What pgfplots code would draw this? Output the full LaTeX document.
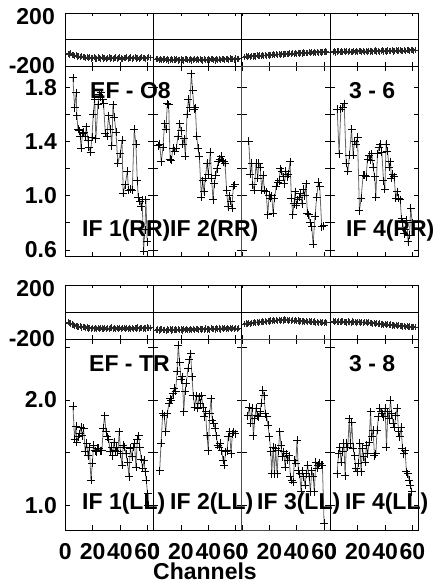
\documentclass[border=0pt]{standalone}
\usepackage{fontspec}
\setmainfont{Liberation Sans}
\usepackage{pgfplots}
\pgfplotsset{compat=1.18}
\newcommand{\bigf}{\fontsize{23}{25}\selectfont\bfseries}
\pgfplotsset{
  base/.style={scale only axis, width=88.4pt, xmin=-0.2, xmax=64.5, anchor=south west,
    axis line style={line width=0.8pt}, tick align=inside, tick pos=both,
    xtick={0,20,40,60}, xticklabels={}, yticklabels={},
    major tick style={line width=0.7pt, black},
    every tick label/.append style={font=\bigf},
    /pgf/number format/assume math mode=true},
  ph/.style={base, height=53pt, ymin=-200, ymax=200, ytick={-200,0,200}, ymajorgrids,
    grid style={black, line width=0.7pt}, major tick length=3.5pt},
  phlab/.style={yticklabels={-200,,}, yticklabel style={inner sep=0pt, xshift=-10pt},
    extra y ticks={200}, extra y tick labels={200}, extra y tick style={yticklabel style={yshift=-3.5pt}}},
  ampA/.style={base, height=190.7pt, ymin=0.55, ymax=1.957, ytick={0.6,0.8,1.0,1.2,1.4,1.6,1.8}, major tick length=5pt},
  ampB/.style={base, height=191pt, ymin=0.766, ymax=2.578, ytick={1.0,1.5,2.0,2.5}, major tick length=5pt},
  ampplot/.style={black!60, line width=0.8pt, mark=+, mark size=4pt, mark options={black, line width=0.8pt}},
  phplot/.style={black!80, line width=0.9pt, mark=+, mark size=3.1pt, mark options={black!85, line width=0.9pt}},
  table/phtab/.style={x expr=\coordindex+2, y index=0, header=false, row sep=\\},
  ylab/.style={yticklabel style={inner sep=0pt, xshift=-8pt}},
  xlab/.style={xticklabels={0,20,40,60}, xticklabel style={inner sep=0pt, yshift=-13pt}},
}
\begin{document}
\begin{tikzpicture}
\useasboundingbox (0pt,0pt) rectangle (432pt,583pt);
%================ TOP BLOCK: phase ================
\begin{axis}[ph, at={(65pt,517pt)}, phlab]
\addplot[phplot] table[phtab] {-108\\-114\\-103\\-117\\-118\\-124\\-118\\-128\\-126\\-133\\-125\\-135\\-133\\-140\\-132\\-142\\-135\\-144\\-137\\-134\\-143\\-146\\-136\\-141\\-145\\-135\\-143\\-138\\-147\\-140\\-134\\-144\\-138\\-146\\-141\\-136\\-145\\-140\\-135\\-144\\-147\\-137\\-142\\-134\\-145\\-140\\-136\\-146\\-141\\-135\\-144\\-138\\-147\\-140\\-134\\-142\\-137\\-145\\-138\\-132\\-137\\};
\end{axis}
\begin{axis}[ph, at={(153.4pt,517pt)}]
\addplot[phplot] table[phtab] {-150\\-146\\-155\\-148\\-157\\-151\\-145\\-156\\-150\\-158\\-152\\-147\\-157\\-151\\-154\\-146\\-158\\-152\\-149\\-156\\-159\\-150\\-147\\-157\\-154\\-149\\-158\\-152\\-146\\-156\\-150\\-157\\-149\\-154\\-159\\-147\\-152\\-157\\-149\\-156\\-150\\-146\\-154\\-158\\-149\\-152\\-147\\-156\\-150\\-145\\-154\\-149\\-146\\-153\\-144\\-150\\-145\\-152\\-143\\-149\\-145\\};
\end{axis}
\begin{axis}[ph, at={(241.8pt,517pt)}]
\addplot[phplot] table[phtab] {-133\\-125\\-132\\-126\\-130\\-122\\-129\\-123\\-128\\-120\\-126\\-121\\-125\\-117\\-124\\-118\\-122\\-115\\-121\\-116\\-119\\-112\\-118\\-111\\-116\\-111\\-115\\-108\\-114\\-107\\-112\\-107\\-111\\-104\\-110\\-103\\-108\\-103\\-107\\-100\\-106\\-101\\-105\\-98\\-104\\-99\\-103\\-96\\-102\\-97\\-101\\-94\\-100\\-95\\-99\\-92\\-98\\-93\\-97\\-91\\-95\\};
\end{axis}
\begin{axis}[ph, at={(330.2pt,517pt)}]
\addplot[phplot] table[phtab] {-96\\-89\\-98\\-91\\-87\\-95\\-90\\-97\\-88\\-94\\-89\\-96\\-87\\-93\\-95\\-88\\-92\\-86\\-94\\-89\\-85\\-93\\-88\\-95\\-87\\-92\\-84\\-91\\-86\\-93\\-88\\-83\\-91\\-85\\-92\\-87\\-82\\-90\\-85\\-91\\-83\\-89\\-84\\-81\\-90\\-85\\-82\\-89\\-83\\-80\\-88\\-84\\-81\\-87\\-82\\-79\\-86\\-81\\-78\\-85\\-80\\};
\end{axis}
%================ TOP BLOCK: amplitude ================
\begin{axis}[ampA, at={(65pt,326.3pt)}, ylab, yticklabels={0.6,,1.0,,1.4,,1.8}]
\addplot[ampplot] coordinates {(5.6,1.87)(6.8,1.65)(8.0,1.76)(8.5,1.59)(9.3,1.49)(10.2,1.48)(11.0,1.44)(11.5,1.35)(12.7,1.46)(13.4,1.47)(14.6,1.44)(15.4,1.51)(16.6,1.41)(17.1,1.36)(18.5,1.32)(19.5,1.43)(20.5,1.60)(21.5,1.71)(22.4,1.42)(23.9,1.67)(24.9,1.75)(25.6,1.73)(26.3,1.76)(27.3,1.71)(28.0,1.68)(29.3,1.46)(30.5,1.44)(31.7,1.59)(32.9,1.49)(34.1,1.37)(34.9,1.67)(35.9,1.58)(37.1,1.47)(38.5,1.24)(40.2,1.31)(41.5,1.41)(42.4,1.02)(43.9,1.08)(45.4,1.18)(46.3,1.04)(47.8,1.05)(49.0,1.04)(50.5,1.49)(51.7,1.38)(52.7,1.11)(53.4,0.99)(54.6,0.96)(55.6,0.92)(56.3,0.97)(57.3,0.59)(58.3,0.75)(59.0,0.97)(60.0,0.66)};
\end{axis}
\begin{axis}[ampA, at={(153.4pt,326.3pt)}]
\addplot[ampplot] coordinates {(3.2,1.37)(4.4,1.38)(5.6,1.25)(6.8,1.36)(8.0,1.53)(9.0,1.49)(10.0,1.68)(11.0,1.67)(12.0,1.27)(12.9,1.26)(14.1,1.35)(15.4,1.33)(16.6,1.35)(17.8,1.44)(19.0,1.53)(20.2,1.48)(21.2,1.38)(22.2,1.42)(23.2,1.29)(24.4,1.60)(25.4,1.71)(26.3,1.65)(27.6,1.90)(28.5,1.78)(29.5,1.64)(30.5,1.65)(31.5,1.44)(32.4,1.35)(33.4,1.29)(34.9,0.99)(35.9,1.11)(36.8,1.03)(37.8,1.13)(39.0,1.24)(40.0,1.16)(41.5,1.32)(42.4,1.13)(43.4,0.97)(44.4,1.09)(45.4,1.15)(46.3,1.20)(47.3,1.25)(48.3,1.27)(49.3,1.29)(50.2,1.26)(51.2,1.25)(52.2,1.24)(53.4,1.04)(54.4,0.92)(55.4,1.00)(56.3,0.96)(57.3,0.91)(58.3,1.07)(59.3,1.08)};
\end{axis}
\begin{axis}[ampA, at={(241.8pt,326.3pt)}, axis line style={line width=0.8pt, black!70}]
\addplot[ampplot] coordinates {(4.9,1.40)(6.1,1.16)(7.1,1.24)(7.8,1.08)(9.0,1.04)(10.2,1.24)(11.5,1.13)(12.2,1.24)(13.2,1.21)(14.4,1.04)(15.4,1.15)(16.3,1.04)(17.6,1.03)(18.8,0.86)(19.8,1.00)(20.7,0.98)(21.7,1.00)(22.7,0.87)(23.7,0.98)(25.1,1.07)(26.1,1.10)(27.1,1.11)(28.0,1.20)(29.0,1.18)(30.0,1.14)(31.0,1.09)(32.0,1.18)(32.9,1.14)(33.9,1.16)(35.1,1.25)(36.1,0.98)(37.1,0.86)(38.0,0.94)(38.8,1.03)(39.8,0.93)(40.7,0.97)(41.7,0.99)(42.7,1.02)(43.9,0.94)(44.9,1.05)(45.9,1.00)(46.8,1.09)(47.8,0.87)(48.8,0.86)(50.0,0.80)(51.0,0.77)(52.0,0.64)(53.4,0.85)(54.6,0.99)(55.9,1.10)(56.8,1.07)(58.3,0.77)(59.8,0.78)};
\end{axis}
\begin{axis}[ampA, at={(330.2pt,326.3pt)}]
\addplot[ampplot] coordinates {(4.9,1.64)(6.3,1.31)(7.6,1.64)(8.8,1.65)(10.0,1.68)(11.5,1.24)(12.7,1.18)(13.9,1.30)(15.4,1.49)(16.6,1.30)(17.6,1.40)(18.8,1.38)(19.8,1.43)(21.2,0.89)(22.4,0.98)(23.9,1.15)(25.1,1.15)(26.1,1.14)(27.1,1.27)(28.3,1.30)(29.3,1.26)(30.2,1.31)(31.2,1.21)(32.4,1.14)(33.2,0.99)(34.4,1.31)(35.6,1.36)(36.6,1.38)(37.6,1.32)(38.8,1.11)(39.8,1.05)(40.7,1.38)(41.7,1.33)(42.9,1.21)(43.9,1.25)(44.6,1.13)(45.6,1.16)(46.6,1.14)(47.8,0.98)(48.8,1.03)(49.8,0.98)(51.0,0.97)(52.0,0.83)(52.9,0.80)(53.9,0.72)(54.9,0.75)(55.9,0.82)(56.8,0.66)(57.8,0.71)(58.8,0.91)(59.8,0.80)};
\end{axis}
%================ BOTTOM BLOCK: phase ================
\begin{axis}[ph, at={(65pt,244pt)}, height=54pt, phlab]
\addplot[phplot] table[phtab] {-76\\-84\\-85\\-92\\-94\\-101\\-102\\-108\\-109\\-106\\-115\\-114\\-110\\-120\\-115\\-122\\-116\\-123\\-118\\-125\\-117\\-124\\-119\\-126\\-118\\-122\\-127\\-116\\-124\\-119\\-126\\-121\\-115\\-125\\-119\\-127\\-118\\-123\\-116\\-126\\-121\\-118\\-125\\-119\\-127\\-116\\-123\\-119\\-126\\-118\\-122\\-115\\-125\\-119\\-117\\-124\\-118\\-122\\-115\\-121\\-117\\};
\end{axis}
\begin{axis}[ph, at={(153.4pt,244pt)}, height=54pt]
\addplot[phplot] table[phtab] {-134\\-129\\-137\\-130\\-127\\-136\\-131\\-138\\-129\\-135\\-128\\-137\\-130\\-136\\-129\\-133\\-126\\-135\\-129\\-137\\-128\\-133\\-125\\-132\\-136\\-126\\-131\\-124\\-134\\-128\\-125\\-132\\-123\\-130\\-125\\-131\\-122\\-129\\-124\\-131\\-121\\-128\\-123\\-130\\-120\\-127\\-122\\-129\\-119\\-126\\-121\\-128\\-118\\-125\\-120\\-127\\-117\\-124\\-119\\-126\\-119\\};
\end{axis}
\begin{axis}[ph, at={(241.8pt,244pt)}, height=54pt]
\addplot[phplot] table[phtab] {-91\\-85\\-89\\-82\\-86\\-79\\-83\\-77\\-81\\-74\\-79\\-72\\-77\\-70\\-75\\-68\\-73\\-65\\-71\\-63\\-69\\-61\\-67\\-59\\-66\\-57\\-64\\-58\\-63\\-56\\-62\\-57\\-64\\-59\\-65\\-60\\-67\\-61\\-68\\-63\\-70\\-64\\-71\\-65\\-73\\-67\\-74\\-68\\-76\\-70\\-77\\-71\\-79\\-73\\-80\\-74\\-81\\-76\\-82\\-77\\-80\\};
\end{axis}
\begin{axis}[ph, at={(330.2pt,244pt)}, height=54pt]
\addplot[phplot] table[phtab] {-69\\-75\\-67\\-74\\-70\\-77\\-71\\-68\\-76\\-72\\-78\\-70\\-75\\-79\\-71\\-77\\-73\\-80\\-74\\-72\\-79\\-75\\-81\\-76\\-74\\-82\\-77\\-84\\-79\\-86\\-81\\-88\\-83\\-90\\-85\\-92\\-87\\-94\\-89\\-96\\-91\\-98\\-93\\-100\\-95\\-102\\-97\\-104\\-99\\-106\\-101\\-108\\-103\\-110\\-105\\-112\\-107\\-114\\-109\\-113\\-114\\};
\end{axis}
%================ BOTTOM BLOCK: amplitude ================
\begin{axis}[ampB, at={(65pt,53pt)}, ylab, yticklabels={1.0,,2.0,}, xlab]
\addplot[ampplot] coordinates {(5.6,1.94)(6.8,1.63)(7.8,1.75)(8.5,1.60)(9.5,1.65)(10.5,1.68)(11.5,1.74)(12.4,1.66)(13.4,1.73)(14.6,1.51)(15.6,1.59)(16.6,1.47)(17.6,1.55)(18.8,1.24)(19.8,1.40)(20.7,1.57)(21.7,1.52)(22.7,1.51)(23.7,1.54)(24.6,1.54)(25.9,1.52)(26.8,1.52)(27.8,1.73)(28.8,1.85)(29.8,1.70)(30.7,1.65)(31.7,1.63)(32.9,1.51)(33.9,1.55)(34.6,1.47)(35.6,1.60)(36.6,1.52)(37.6,1.55)(38.5,1.51)(39.5,1.70)(40.5,1.49)(41.5,1.38)(42.4,1.57)(43.4,1.55)(44.4,1.49)(45.6,1.41)(46.6,1.27)(47.6,1.54)(48.8,1.46)(49.8,1.55)(50.7,1.59)(51.7,1.36)(52.7,1.63)(53.7,1.66)(54.6,1.55)(55.6,1.44)(56.6,1.35)(57.6,1.43)(58.5,1.32)(59.3,1.24)(60.2,1.11)(60.8,1.00)};
\end{axis}
\begin{axis}[ampB, at={(153.4pt,53pt)}, xlab]
\addplot[ampplot] coordinates {(4.4,1.33)(5.4,1.59)(6.6,1.87)(7.6,1.85)(8.8,1.70)(10.0,1.87)(11.2,1.97)(12.0,2.01)(12.9,2.00)(14.1,2.06)(15.1,2.11)(16.1,2.08)(17.1,2.27)(18.0,2.52)(19.0,2.36)(20.0,2.19)(21.0,2.22)(22.0,1.89)(22.9,2.08)(23.9,2.16)(25.1,2.30)(26.1,2.38)(27.1,2.44)(28.0,2.22)(29.0,2.04)(30.0,1.93)(31.2,2.04)(32.2,1.92)(33.2,2.03)(34.1,1.97)(35.1,2.04)(36.1,1.93)(37.1,1.84)(38.0,1.89)(39.0,1.66)(40.0,1.52)(41.0,1.87)(42.0,2.01)(42.9,1.81)(43.9,1.78)(44.9,1.73)(45.9,1.66)(46.8,1.57)(47.8,1.55)(48.8,1.59)(49.8,1.52)(50.7,1.43)(51.7,1.38)(52.7,1.51)(53.7,1.52)(54.6,1.65)(55.6,1.70)(56.6,1.49)(57.6,1.68)(58.5,1.70)(59.5,1.68)};
\end{axis}
\begin{axis}[ampB, at={(241.8pt,53pt)}, xlab, axis line style={line width=0.8pt, black!70}]
\addplot[ampplot] coordinates {(4.1,1.85)(5.4,1.93)(6.3,1.78)(7.3,1.92)(8.3,1.66)(9.3,1.82)(10.2,1.92)(11.2,1.85)(12.2,1.84)(13.2,1.89)(14.1,1.97)(15.1,2.09)(16.1,2.04)(17.1,1.87)(18.0,1.84)(19.0,1.76)(20.0,1.65)(21.0,1.51)(21.7,1.30)(22.7,1.55)(23.7,1.30)(24.6,1.54)(25.6,1.30)(26.6,1.52)(27.6,1.70)(28.5,1.57)(29.5,1.46)(30.5,1.51)(31.5,1.36)(32.4,1.49)(33.4,1.43)(34.4,1.47)(35.4,1.27)(36.3,1.24)(37.3,1.22)(38.3,1.43)(39.3,1.40)(40.2,1.62)(41.2,1.33)(42.2,1.30)(43.2,1.13)(44.1,1.33)(45.1,1.27)(46.1,1.19)(47.1,1.30)(48.0,1.38)(49.0,1.27)(50.0,1.13)(51.0,1.33)(52.0,1.27)(52.9,1.13)(53.9,1.41)(54.9,1.35)(55.9,1.38)(56.8,1.40)(57.8,1.38)(58.8,1.38)(60.0,0.83)};
\end{axis}
\begin{axis}[ampB, at={(330.2pt,53pt)}, xlab]
\addplot[ampplot] coordinates {(4.9,1.30)(5.9,1.49)(6.8,1.55)(7.8,1.41)(8.8,1.51)(9.8,1.59)(10.7,1.28)(11.7,1.59)(12.7,1.55)(13.7,1.82)(14.6,1.59)(15.6,1.79)(16.6,1.54)(17.6,1.47)(18.5,1.35)(19.5,1.32)(20.5,1.40)(21.5,1.59)(22.4,1.32)(23.4,1.54)(24.4,1.46)(25.4,1.41)(26.3,1.57)(27.3,1.49)(28.3,1.60)(29.3,1.89)(30.2,1.65)(31.2,1.71)(32.2,1.47)(33.2,1.49)(34.1,1.71)(35.1,1.84)(36.1,1.92)(37.1,1.89)(38.0,1.87)(39.0,1.84)(40.0,1.92)(41.0,1.55)(42.0,1.89)(42.9,1.82)(43.9,2.00)(44.9,1.87)(45.9,1.78)(46.8,1.74)(47.8,1.85)(48.8,1.92)(49.8,1.70)(50.7,1.65)(51.7,1.74)(52.7,1.54)(53.7,1.49)(54.6,1.52)(55.6,1.32)(56.6,1.30)(57.6,1.24)(58.5,1.19)(59.5,1.13)};
\end{axis}
%================ labels ================
\node[font=\bigf, anchor=base west, inner sep=0pt] at (90pt,484pt) {EF - O8};
\node[font=\bigf, anchor=base west, inner sep=0pt] at (349pt,484pt) {3 - 6};
\node[font=\bigf, anchor=base west, inner sep=0pt] at (82pt,346pt) {IF 1(RR)};
\node[font=\bigf, anchor=base west, inner sep=0pt] at (170pt,346pt) {IF 2(RR)};
\node[font=\bigf, anchor=base west, inner sep=0pt] at (346pt,346pt) {IF 4(RR)};
\node[font=\bigf, anchor=base west, inner sep=0pt] at (89pt,211pt) {EF - TR};
\node[font=\bigf, anchor=base west, inner sep=0pt] at (349pt,211pt) {3 - 8};
\node[font=\bigf, anchor=base west, inner sep=0pt] at (82pt,73pt) {IF 1(LL)};
\node[font=\bigf, anchor=base west, inner sep=0pt] at (170pt,73pt) {IF 2(LL)};
\node[font=\bigf, anchor=base west, inner sep=0pt] at (257pt,73pt) {IF 3(LL)};
\node[font=\bigf, anchor=base west, inner sep=0pt] at (345pt,73pt) {IF 4(LL)};
\node[font=\bigf, anchor=base west, inner sep=0pt] at (153pt,3pt) {Channels};
\end{tikzpicture}
\end{document}
